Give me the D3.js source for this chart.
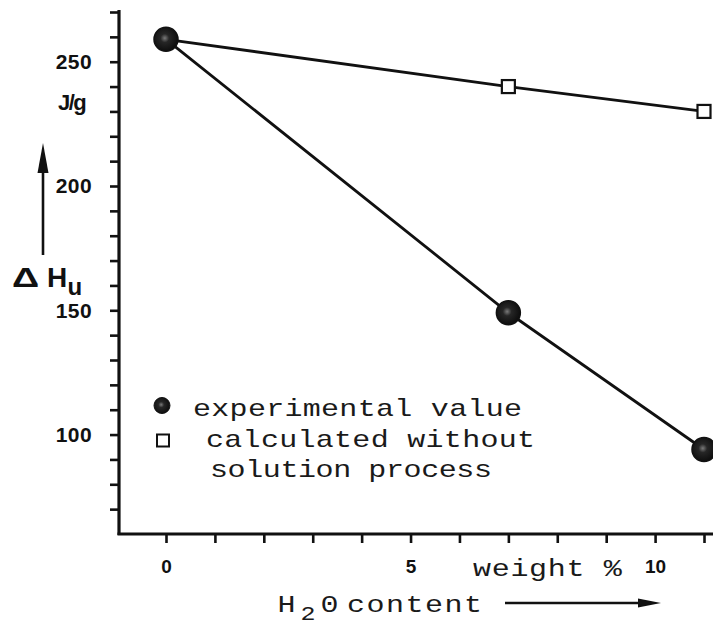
<!DOCTYPE html>
<html>
<head>
<meta charset="utf-8">
<script src="https://cdn.jsdelivr.net/npm/d3@7"></script>
<style>
  html, body { margin: 0; padding: 0; background: #fff; }
  svg { display: block; }
</style>
</head>
<body>
<svg id="chart" width="713" height="627"></svg>
<script>
// H2O content in weight %
const waterContent = [0, 7, 11];
// heat of fusion, J/g
const experimental = [259, 149, 94];
const calculated = [259, 240, 230];

const yTickValues = d3.range(70, 271, 10);
const yTickLabels = [100, 150, 200, 250];
const xTickValues = d3.range(0, 12, 1);
const xTickLabels = [0, 5, 10];

const legendEntries = [
  { kind: "circle", lines: ["experimental value"] },
  { kind: "square", lines: ["calculated without", "solution process"] }
];

const ink = "#111";
const monoFont = "'Liberation Mono', 'DejaVu Sans Mono', monospace";
const boldFont = "'Liberation Sans', Arial, sans-serif";

const svg = d3.select("#chart");

const x = d3.scaleLinear().domain([0, 11]).range([166, 704]);
const y = d3.scaleLinear().domain([60, 270]).range([534, 12]);

// shaded ball marker
const defs = svg.append("defs");
const grad = defs.append("radialGradient").attr("id", "ball")
  .attr("cx", "45%").attr("cy", "45%").attr("r", "60%");
grad.append("stop").attr("offset", "0%").attr("stop-color", "#7a7a7a");
grad.append("stop").attr("offset", "30%").attr("stop-color", "#262626");
grad.append("stop").attr("offset", "100%").attr("stop-color", "#0a0a0a");

// ---- y axis ----
const yAxis = d3.axisLeft(y)
  .tickValues(yTickValues)
  .tickSize(9)
  .tickFormat(d => yTickLabels.includes(d) ? d : "");
const gy = svg.append("g").attr("transform", "translate(119,0)").call(yAxis);
gy.select(".domain").remove();
gy.selectAll(".tick line").attr("stroke", ink).attr("stroke-width", 2.6);
gy.selectAll(".tick text")
  .attr("x", -27)
  .attr("fill", ink)
  .attr("font-family", boldFont)
  .attr("font-weight", "bold")
  .attr("font-size", 21)
  .attr("letter-spacing", 0.4);

svg.append("line")
  .attr("x1", 119).attr("x2", 119)
  .attr("y1", 10).attr("y2", 535)
  .attr("stroke", ink).attr("stroke-width", 3.2);

// ---- x axis ----
const xAxis = d3.axisBottom(x)
  .tickValues(xTickValues)
  .tickSize(9)
  .tickFormat(d => xTickLabels.includes(d) ? d : "");
const gx = svg.append("g").attr("transform", "translate(0,534)").call(xAxis);
gx.select(".domain").remove();
gx.selectAll(".tick line").attr("stroke", ink).attr("stroke-width", 2.6);
gx.selectAll(".tick text")
  .attr("y", 39)
  .attr("dy", 0)
  .attr("fill", ink)
  .attr("font-family", boldFont)
  .attr("font-weight", "bold")
  .attr("font-size", 19);

svg.append("line")
  .attr("x1", 117.5).attr("x2", 713)
  .attr("y1", 534).attr("y2", 534)
  .attr("stroke", ink).attr("stroke-width", 3.2);

// ---- series lines ----
const line = d3.line()
  .x((d, i) => x(waterContent[i]))
  .y(d => y(d));

svg.append("path").datum(calculated)
  .attr("d", line).attr("fill", "none")
  .attr("stroke", ink).attr("stroke-width", 2.8);
svg.append("path").datum(experimental)
  .attr("d", line).attr("fill", "none")
  .attr("stroke", ink).attr("stroke-width", 2.8);

// calculated points (open squares); the origin point is shared with the balls
const sq = 13;
svg.selectAll("rect.calc")
  .data(calculated.map((v, i) => ({ x: waterContent[i], v })).slice(1))
  .join("rect").attr("class", "calc")
  .attr("x", d => x(d.x) - sq / 2).attr("y", d => y(d.v) - sq / 2)
  .attr("width", sq).attr("height", sq)
  .attr("fill", "#fff").attr("stroke", ink).attr("stroke-width", 2.2);

// experimental points (filled balls)
svg.selectAll("circle.exp")
  .data(experimental.map((v, i) => ({ x: waterContent[i], v })))
  .join("circle").attr("class", "exp")
  .attr("cx", d => x(d.x)).attr("cy", d => y(d.v))
  .attr("r", 12)
  .attr("fill", "url(#ball)").attr("stroke", ink).attr("stroke-width", 1.5);

// ---- y axis title: ΔHu, J/g and arrow ----
svg.append("text")
  .attr("x", 58).attr("y", 110)
  .attr("font-family", boldFont).attr("font-weight", "bold")
  .attr("font-size", 22).attr("letter-spacing", -1.5)
  .attr("fill", ink)
  .text("J/g");

svg.append("line")
  .attr("x1", 43).attr("x2", 43).attr("y1", 255).attr("y2", 165)
  .attr("stroke", ink).attr("stroke-width", 2.6);
svg.append("path")
  .attr("d", "M43,143 L37.5,173 L48.5,173 Z")
  .attr("fill", ink);

svg.append("text")
  .attr("transform", "translate(12,287) scale(1.35,1)")
  .attr("font-family", boldFont).attr("font-weight", "bold")
  .attr("font-size", 28).attr("fill", ink)
  .text("Δ");
const hu = svg.append("text")
  .attr("x", 47).attr("y", 287)
  .attr("font-family", boldFont).attr("font-weight", "bold")
  .attr("font-size", 28).attr("fill", ink);
hu.append("tspan").text("H");
hu.append("tspan").attr("x", 67.5).attr("y", 295).attr("font-size", 24).text("u");

// ---- typewriter text: widened monospace ----
const stretch = 1.25;
function mono(px, py, str, opts = {}) {
  const size = opts.size || 24;
  const pitch = opts.pitch || 18.3;           // character pitch on screen
  const ls = pitch / stretch - size * 0.6;    // spacing in unscaled units
  return svg.append("text")
    .attr("transform", `translate(${px},${py}) scale(${stretch},1)`)
    .attr("font-family", monoFont)
    .attr("font-size", size)
    .attr("letter-spacing", ls)
    .attr("fill", "#1a1a1a")
    .text(str);
}

// ---- x axis title ----
mono(473, 576, "weight %", { pitch: 18.7 });
mono(277.5, 612, "H");
mono(300.5, 620, "2", { size: 20 });
mono(320.5, 612, "0");
mono(347, 612, "content", { pitch: 19.5 });

svg.append("line")
  .attr("x1", 505).attr("x2", 645).attr("y1", 603).attr("y2", 603)
  .attr("stroke", ink).attr("stroke-width", 2.6);
svg.append("path")
  .attr("d", "M661,603 L638,598.5 L638,607.5 Z")
  .attr("fill", ink);

// ---- legend ----
const legendRows = [
  { x: 193, y: 416 },
  { x: 206, y: 447 }
];
legendEntries.forEach((entry, i) => {
  const row = legendRows[i];
  const my = row.y - 11;
  if (entry.kind === "circle") {
    svg.append("circle").attr("cx", 162).attr("cy", my + 0.5).attr("r", 8)
      .attr("fill", "url(#ball)").attr("stroke", ink).attr("stroke-width", 1);
  } else {
    svg.append("rect").attr("x", 157).attr("y", my - 1.5).attr("width", 12).attr("height", 12)
      .attr("fill", "#fff").attr("stroke", ink).attr("stroke-width", 2);
  }
  entry.lines.forEach((t, j) => {
    mono(row.x + (j ? 4 : 0), row.y + j * 29.5, t, { pitch: j ? 17.6 : 18.3 });
  });
});
</script>
</body>
</html>
